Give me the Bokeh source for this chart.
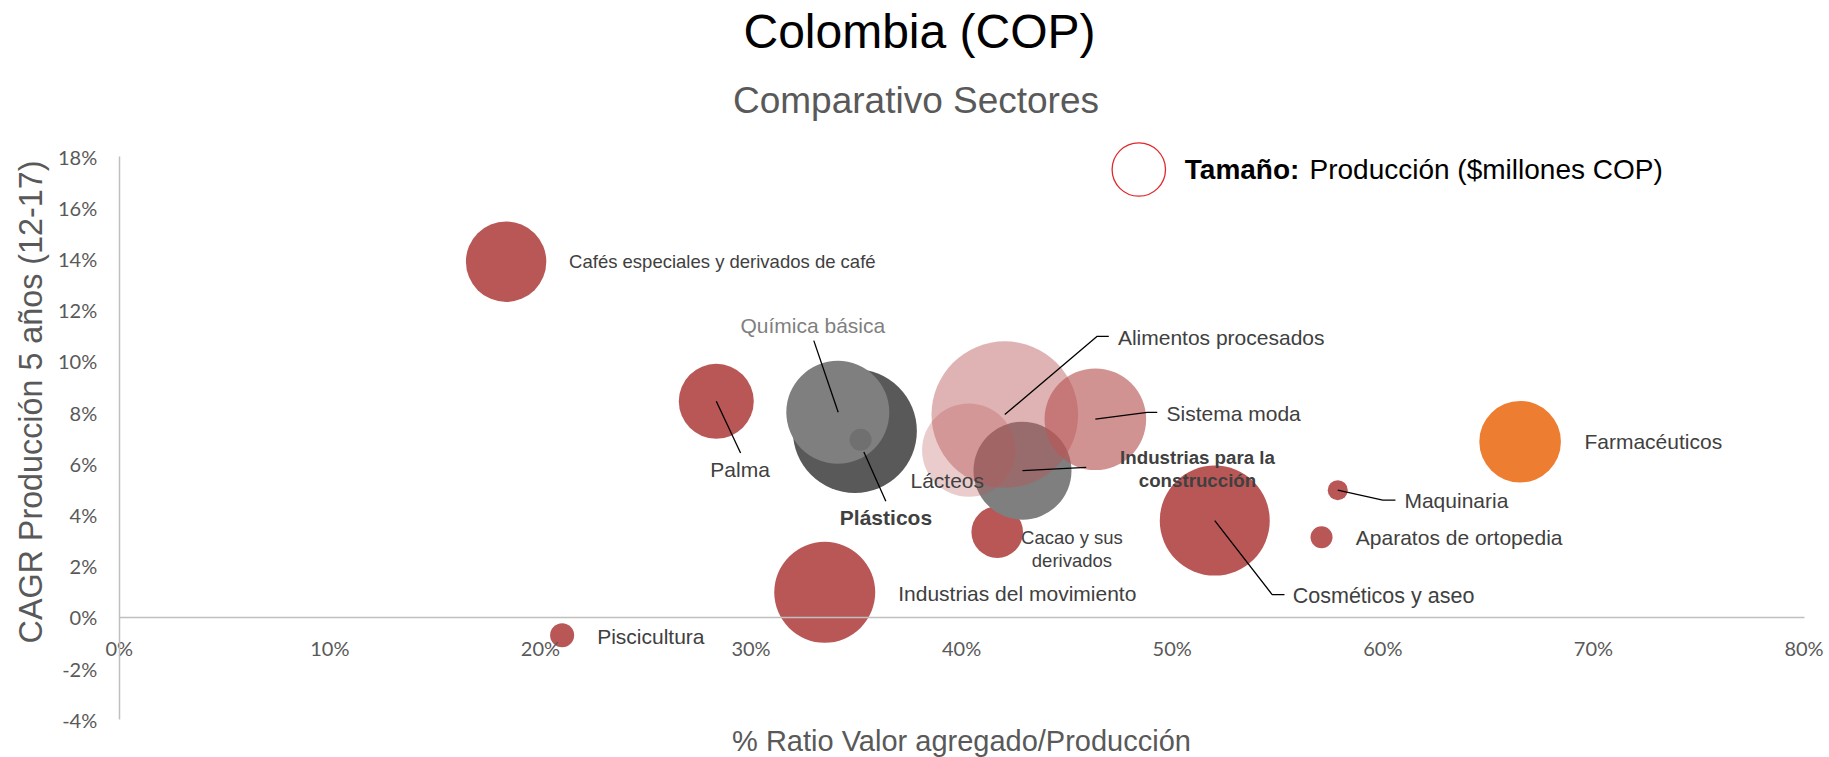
import numpy as np
from bokeh.plotting import figure
from bokeh.models import (ColumnDataSource, Range1d, LinearAxis, FixedTicker,
                          NumeralTickFormatter, Label)
from bokeh.core.properties import value, field
from bokeh.embed import file_html
from bokeh.resources import INLINE

# ------------------------------------------------------------------ data
sectores = [
    "Piscicultura",
    "Cafés especiales y derivados de café",
    "Palma",
    "Industrias del movimiento",
    "Cacao y sus derivados",
    "Cosméticos y aseo",
    "Maquinaria",
    "Aparatos de ortopedia",
    "Farmacéuticos",
    "Plásticos",
    "Química básica",
    "Otros",
    "Industrias para la construcción",
    "Lácteos",
    "Alimentos procesados",
    "Sistema moda",
]
# % Ratio Valor agregado / Producción
ratio_va = [0.2103, 0.1837, 0.2835, 0.3350, 0.4169, 0.5202, 0.5786, 0.5709,
            0.6652, 0.3493, 0.3412, 0.3520, 0.4289, 0.4034, 0.4205, 0.4635]
# CAGR Producción 5 años (12-17)
cagr = [-0.0070, 0.1389, 0.0844, 0.0098, 0.0333, 0.0378, 0.0497, 0.0313,
        0.0686, 0.0728, 0.0801, 0.0694, 0.0573, 0.0653, 0.0792, 0.0774]
# Producción ($ millones COP)
produccion = [1440000, 16160000, 14060000, 25500000, 6660000, 30250000,
              1000000, 1210000, 16650000, 38440000, 26520000, 1210000,
              24010000, 21810000, 53730000, 25810000]

x_ticks = [0.0, 0.1, 0.2, 0.3, 0.4, 0.5, 0.6, 0.7, 0.8]
y_ticks = [-0.04, -0.02, 0.0, 0.02, 0.04, 0.06, 0.08, 0.10, 0.12, 0.14, 0.16, 0.18]

# ------------------------------------------------------------------ styles
RED = "#B95757"
colores = [RED, RED, RED, RED, RED, RED, RED, RED, "#ED7D31",
           "#595959", "#7F7F7F", "#707070", "#7F7F7F", RED, RED, RED]
alphas = [1, 1, 1, 1, 1, 1, 1, 1, 1, 1, 1, 1, 1, 0.30, 0.45, 0.65]
BUBBLE_PX = 10.0   # radius in px for sqrt(millones / 1e6)

# label placement: text, dx, dy (px, y down), align, size, style, color
LAB = "#404040"
label_layout = {
    "Piscicultura": ("Piscicultura", 35, 1, "left", "21px", "normal", LAB),
    "Cafés especiales y derivados de café": ("Cafés especiales y derivados de café", 63, 0, "left", "18.5px", "normal", LAB),
    "Palma": ("Palma", -6, 68, "left", "21px", "normal", LAB),
    "Industrias del movimiento": ("Industrias del movimiento", 73.5, 1, "left", "21px", "normal", LAB),
    "Cacao y sus derivados": ("Cacao y sus\nderivados", 74.7, 16.8, "center", "18.5px", "normal", LAB),
    "Cosméticos y aseo": ("Cosméticos y aseo", 78, 75.7, "left", "21.5px", "normal", LAB),
    "Maquinaria": ("Maquinaria", 66.7, 10.6, "left", "21px", "normal", LAB),
    "Aparatos de ortopedia": ("Aparatos de ortopedia", 34.3, 0.7, "left", "21px", "normal", LAB),
    "Farmacéuticos": ("Farmacéuticos", 64.3, -0.6, "left", "21px", "normal", LAB),
    "Plásticos": ("Plásticos", -15, 87, "left", "21px", "bold", LAB),
    "Química básica": ("Química básica", -97.3, -87, "left", "21px", "normal", "#7F7F7F"),
    "Industrias para la construcción": ("Industrias para la\nconstrucción", 175, -1.7, "center", "18.7px", "bold", LAB),
    "Lácteos": ("Lácteos", -58.3, 30.2, "left", "21px", "normal", LAB),
    "Alimentos procesados": ("Alimentos procesados", 113.1, -77.3, "left", "21px", "normal", LAB),
    "Sistema moda": ("Sistema moda", 71.2, -5.5, "left", "21px", "normal", LAB),
}
# leader lines (px offsets from the bubble centre, y down)
leaders = {
    "Palma": [(0, 0), (24.3, 51.7)],
    "Química básica": [(0.4, 0), (-24, -71.7)],
    "Plásticos": [(9, 21), (31, 70.3)],
    "Alimentos procesados": [(0, 0), (92.4, -78.3), (104, -78.3)],
    "Sistema moda": [(0, 0), (51.9, -6.8), (61.9, -6.8)],
    "Industrias para la construcción": [(0, 0), (63.7, -3.2)],
    "Cosméticos y aseo": [(0, 0), (57.4, 74), (69.7, 74)],
    "Maquinaria": [(0, 0), (45, 10), (57.7, 10)],
}

# ------------------------------------------------------------------ layout
W, H = 1829, 757
# pixel positions of the axis extremes on the canvas
AX_L, AX_R = 118.75, 1803.5      # x = 0 %, x = 80 %
AX_T, AX_B = 156.0, 719.3        # y = 18 %, y = -4 %
XA, XB = 0.0, 0.8
YA, YB = -0.04, 0.18
PX_X = (AX_R - AX_L) / (XB - XA)
PX_Y = (AX_B - AX_T) / (YB - YA)
x_range = Range1d(XA - AX_L / PX_X, XB + (W - AX_R) / PX_X)
y_range = Range1d(YA - (H - AX_B) / PX_Y, YB + AX_T / PX_Y)

p = figure(width=W, height=H, x_range=x_range, y_range=y_range,
           output_backend="svg", toolbar_location=None, title=None,
           x_axis_location=None, y_axis_location=None,
           min_border=0, min_border_left=0, min_border_right=0,
           min_border_top=0, min_border_bottom=0)
p.xgrid.visible = False
p.ygrid.visible = False
p.outline_line_color = None
p.background_fill_color = "white"
p.border_fill_color = "white"

TICK_FONT = "Lato"
AX_COLOR = "#BFBFBF"
common = dict(axis_line_color=AX_COLOR, axis_line_width=1.5,
              major_tick_line_color=None, minor_tick_line_color=None,
              major_label_text_font=TICK_FONT, major_label_text_font_size="20px",
              major_label_text_color="#595959",
              formatter=NumeralTickFormatter(format="0%"))

yax = LinearAxis(fixed_location=0, bounds=(YA, YB),
                 ticker=FixedTicker(ticks=y_ticks), major_label_standoff=16,
                 **common)
p.add_layout(yax, "left")

xax = LinearAxis(fixed_location=0, bounds=(XA, XB),
                 ticker=FixedTicker(ticks=x_ticks), major_label_standoff=13,
                 **common)
p.add_layout(xax, "below")

# ------------------------------------------------------------------ bubbles
x = np.array(ratio_va)
y = np.array(cagr)
diam = 2 * BUBBLE_PX * np.sqrt(np.array(produccion) / 1e6)

src = ColumnDataSource(dict(x=x, y=y, d=diam, c=colores, a=alphas, name=sectores))
p.scatter("x", "y", size="d", fill_color="c", fill_alpha="a", line_color=None,
          source=src)

# leader lines
lxs, lys = [], []
for i, s in enumerate(sectores):
    if s in leaders:
        lxs.append([x[i] + dx / PX_X for dx, dy in leaders[s]])
        lys.append([y[i] - dy / PX_Y for dx, dy in leaders[s]])
p.multi_line(lxs, lys, line_color="black", line_width=1.3)

# data labels
lab = dict(x=[], y=[], t=[], al=[], fs=[], st=[], col=[])
for i, s in enumerate(sectores):
    if s not in label_layout:
        continue
    t, dx, dy, al, fs, st, col = label_layout[s]
    lab["x"].append(x[i] + dx / PX_X)
    lab["y"].append(y[i] - dy / PX_Y)
    lab["t"].append(t)
    lab["al"].append(al)
    lab["fs"].append(fs)
    lab["st"].append(st)
    lab["col"].append(col)
p.text("x", "y", text="t", source=ColumnDataSource(lab),
       text_align=field("al"), text_font_size=field("fs"),
       text_font_style=field("st"), text_color=field("col"),
       text_baseline="middle", text_line_height=1.1,
       text_font=value("Liberation Sans"))


def slabel(text, px, py, **kw):
    """Label centred vertically on canvas pixel (px, py) from the top-left."""
    return Label(x=px, y=H - py, x_units="screen", y_units="screen", text=text,
                 text_font="Liberation Sans", text_baseline="middle", **kw)


# ------------------------------------------------------------------ legend (size key)
KEY_CX, KEY_CY, KEY_R = 1138.3, 169, 26.7
key_src = ColumnDataSource(dict(x=[x_range.start + KEY_CX / PX_X],
                                y=[y_range.end - KEY_CY / PX_Y]))
p.scatter("x", "y", size=2 * KEY_R, fill_color=None, line_color="#E0282E",
          line_width=1.3, source=key_src)
p.add_layout(slabel("Tamaño:", 1184.3, 169, text_font_size="28px",
                    text_font_style="bold", text_color="black",
                    text_align="left"))
p.add_layout(slabel("Producción ($millones COP)", 1309, 169,
                    text_font_size="28px", text_color="black",
                    text_align="left"))

# titles
p.add_layout(slabel("Colombia (COP)", 919, 31, text_font_size="48px",
                    text_color="black", text_align="center"))
p.add_layout(slabel("Comparativo Sectores", 915.5, 99.5, text_font_size="37px",
                    text_color="#595959", text_align="center"))
# axis titles
p.add_layout(slabel("% Ratio Valor agregado/Producción", 961, 740,
                    text_font_size="29px", text_color="#595959",
                    text_align="center"))
p.add_layout(slabel("CAGR Producción 5 años (12-17)", 30, 401.5,
                    text_font_size="32.3px", text_color="#595959",
                    text_align="center", angle=np.pi / 2))

open("out.html", "w").write(file_html(p, INLINE))
